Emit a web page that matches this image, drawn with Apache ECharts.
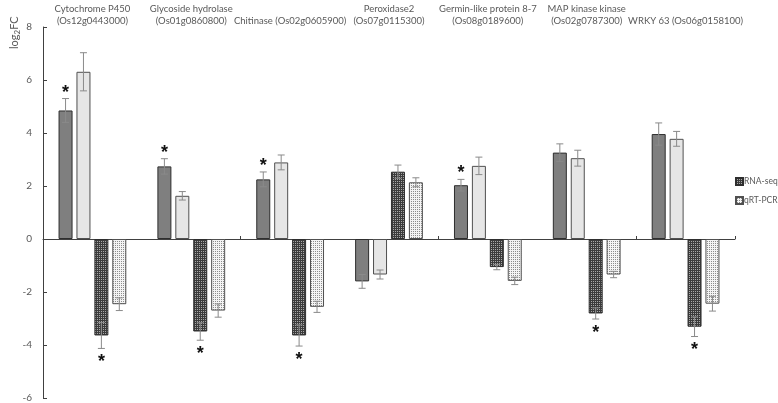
<!DOCTYPE html>
<html><head><meta charset="utf-8">
<script src="https://cdn.jsdelivr.net/npm/echarts@6/dist/echarts.min.js"></script>
<style>html,body{margin:0;padding:0;background:#fff}#c{width:778px;height:403px}</style>
</head><body><div id="c"></div>
<script>
const categories = [
  'Cytochrome P450\n(Os12g0443000)',
  'Glycoside hydrolase\n(Os01g0860800)',
  'Chitinase (Os02g0605900)',
  'Peroxidase2\n(Os07g0115300)',
  'Germin-like protein 8-7\n(Os08g0189600)',
  'MAP kinase kinase\n(Os02g0787300)',
  'WRKY 63 (Os06g0158100)'
];
// bar order within each gene: solid RNA-seq, solid qRT-PCR, dotted RNA-seq, dotted qRT-PCR
const rnaSolid   = [4.85, 2.74, 2.25, -1.60, 2.03, 3.26, 3.96];
const qrtSolid   = [6.31, 1.63, 2.89, -1.34, 2.76, 3.05, 3.78];
const rnaDotted  = [-3.64, -3.49, -3.64, 2.54, -1.06, -2.81, -3.31];
const qrtDotted  = [-2.46, -2.70, -2.56, 2.14, -1.58, -1.34, -2.44];
const rnaSolidErr  = [0.45, 0.29, 0.28, 0.26, 0.22, 0.33, 0.42];
const qrtSolidErr  = [0.72, 0.16, 0.28, 0.17, 0.33, 0.30, 0.28];
const rnaDottedErr = [0.49, 0.33, 0.40, 0.25, 0.10, 0.21, 0.37];
const qrtDottedErr = [0.24, 0.25, 0.21, 0.17, 0.14, 0.12, 0.28];
const rnaSolidStar  = [1, 1, 1, 0, 1, 0, 0];
const rnaDottedStar = [1, 1, 1, 0, 0, 1, 1];
const yTicks = [-6, -4, -2, 0, 2, 4, 6, 8];
const legendNames = ['RNA-seq', 'qRT-PCR'];

function pattern(bg, dot) {
  const c = document.createElement('canvas');
  c.width = 2; c.height = 2;
  const x = c.getContext('2d');
  x.fillStyle = bg; x.fillRect(0, 0, 2, 2);
  x.fillStyle = dot; x.fillRect(1, 1, 1, 1);
  return { image: c, repeat: 'repeat' };
}
const darkPat = pattern('#3c3c3c', '#a8a8a8');
const lightPat = pattern('#f4f4f4', '#8c8c8c');

const BW = 14, GAP = 0.28;
const groups = [
  [rnaSolid, rnaSolidErr, rnaSolidStar],
  [qrtSolid, qrtSolidErr, null],
  [rnaDotted, rnaDottedErr, rnaDottedStar],
  [qrtDotted, qrtDottedErr, null]
];
const errData = [];
groups.forEach((g, bi) => {
  g[0].forEach((v, ci) => errData.push([ci, bi, v, g[1][ci], g[2] ? g[2][ci] : 0]));
});

const chart = echarts.init(document.getElementById('c'), null, { renderer: 'canvas' });
const font = 'Lato, "Open Sans", sans-serif';
function barSeries(name, data, color, border) {
  return {
    name: name, type: 'bar', data: data, barWidth: BW, barGap: (GAP * 100) + '%',
    itemStyle: { color: color, borderColor: border, borderWidth: 1 },
    xAxisIndex: 0, animation: false
  };
}
chart.setOption({
  animation: false,
  grid: { left: 43, right: 43, top: 27, bottom: 5, containLabel: false },
  textStyle: { fontFamily: font },
  legend: {
    data: legendNames, orient: 'vertical', left: 735, top: 177, padding: 0,
    itemWidth: 7, itemHeight: 7, itemGap: 10, icon: 'rect',
    textStyle: { fontSize: 8.5, color: '#595959', fontFamily: font, padding: [0, 0, 0, -4] }
  },
  xAxis: [
    { type: 'category', data: categories, position: 'bottom',
      axisLine: { onZero: true, lineStyle: { color: '#404040', width: 1 } },
      axisTick: { show: true, inside: true, length: 3, lineStyle: { color: '#404040' } },
      axisLabel: { show: false }, splitLine: { show: false } },
    { type: 'category', data: categories, position: 'top',
      axisLine: { show: false }, axisTick: { show: false },
      axisLabel: { color: '#595959', fontSize: 9.5, lineHeight: 12, margin: 0, interval: 0, fontFamily: font } }
  ],
  yAxis: {
    type: 'value', min: yTicks[0], max: yTicks[yTicks.length - 1], interval: 2,
    axisLine: { show: true, lineStyle: { color: '#404040', width: 1 } },
    axisTick: { show: true, inside: true, length: 4, lineStyle: { color: '#404040' } },
    axisLabel: { color: '#595959', fontSize: 10, margin: 11, fontFamily: font },
    splitLine: { show: false }
  },
  graphic: [{
    type: 'text', x: 7, y: 49, rotation: Math.PI / 2,
    style: {
      text: '{a|log}{b|2}{a|FC}', fill: '#595959',
      rich: { a: { fontSize: 11, fontFamily: font, fill: '#595959' },
              b: { fontSize: 8, fontFamily: font, fill: '#595959', padding: [6, 0, 0, 0] } }
    }
  }],
  series: [
    barSeries('solidRNA', rnaSolid, '#7f7f7f', '#2e2e2e'),
    barSeries('solidQRT', qrtSolid, '#e6e6e6', '#505050'),
    barSeries(legendNames[0], rnaDotted, darkPat, '#2e2e2e'),
    barSeries(legendNames[1], qrtDotted, lightPat, '#505050'),
    {
      type: 'custom', z: 10, data: errData, encode: { x: 0, y: 2 }, silent: true,
      renderItem: function (params, api) {
        const ci = api.value(0), bi = api.value(1), v = api.value(2), e = api.value(3), s = api.value(4);
        const g = BW * GAP, total = 4 * BW + 3 * g;
        const cx = api.coord([ci, 0])[0] - total / 2 + BW / 2 + bi * (BW + g);
        const y1 = api.coord([ci, v + e])[1], y2 = api.coord([ci, v - e])[1];
        const ls = { stroke: '#8a8a8a', lineWidth: 1 };
        const ch = [
          { type: 'line', shape: { x1: cx, y1: y1, x2: cx, y2: y2 }, style: ls },
          { type: 'line', shape: { x1: cx - 3.5, y1: y1, x2: cx + 3.5, y2: y1 }, style: ls },
          { type: 'line', shape: { x1: cx - 3.5, y1: y2, x2: cx + 3.5, y2: y2 }, style: ls }
        ];
        if (s) {
          const ty = v >= 0 ? y1 - 6 : y2 + 14;
          ch.push({ type: 'text', x: cx, y: ty,
            style: { text: '*', fill: '#111', fontSize: 18, fontWeight: 'bold', fontFamily: '"Liberation Sans", sans-serif', align: 'center', verticalAlign: 'middle' } });
        }
        return { type: 'group', children: ch };
      }
    }
  ]
});
</script></body></html>
